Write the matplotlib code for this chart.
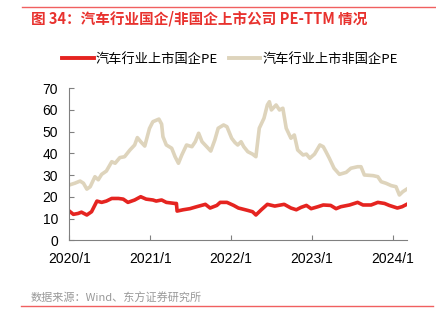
import matplotlib
matplotlib.use("Agg")
import matplotlib.pyplot as plt
from matplotlib.lines import Line2D

plt.rcParams['font.family'] = ['Liberation Sans', 'Noto Sans CJK SC', 'DejaVu Sans']

# months since 2020/1
soe_month = [0, 0.6, 1.3, 1.8, 2.6, 3.3, 4.1, 4.8, 5.5, 6.3, 7.3, 8.0, 8.7, 9.7, 10.6,
             11.4, 12.4, 12.9, 13.7, 14.4, 15.7, 15.9, 16.0, 16.9, 17.9, 18.9, 20.2,
             20.9, 21.9, 22.4, 23.4, 24.4, 25.1, 25.5, 26.5, 27.2, 27.7, 28.5, 29.4,
             30.5, 31.9, 32.9, 33.7, 34.4, 35.2, 35.9, 36.9, 37.7, 38.8, 39.6, 40.3,
             41.6, 42.8, 43.6, 44.8, 45.8, 46.8, 47.5, 48.7, 49.4, 50.1]
soe_pe = [13.5, 12.0, 12.4, 13.0, 11.7, 13.2, 18.1, 17.5, 18.1, 19.3, 19.3, 19.0, 17.5,
          18.6, 20.1, 19.0, 18.6, 18.1, 18.6, 17.5, 17.0, 17.0, 13.5, 14.1, 14.6, 15.5,
          16.6, 14.9, 16.1, 17.5, 17.5, 16.1, 14.9, 14.6, 13.8, 13.2, 11.7, 14.1, 16.6,
          15.8, 16.6, 14.9, 14.1, 15.2, 16.1, 14.6, 15.5, 16.3, 16.1, 14.6, 15.5, 16.3,
          17.5, 16.3, 16.3, 17.5, 17.0, 16.1, 14.9, 15.5, 16.6]

non_month = [0, 0.8, 1.6, 2.1, 2.6, 3.1, 3.8, 4.3, 4.8, 5.5, 6.3, 6.8, 7.5, 8.2, 9.0,
             9.7, 10.1, 10.6, 11.2, 11.9, 12.4, 13.3, 13.7, 13.9, 14.4, 15.2, 15.7,
             16.2, 16.7, 17.4, 18.2, 18.7, 19.2, 19.7, 20.4, 21.0, 21.6, 22.1, 22.9,
             23.4, 24.1, 24.6, 25.0, 25.5, 25.9, 26.5, 27.2, 27.7, 28.2, 28.9, 29.4,
             29.7, 30.0, 30.7, 31.2, 31.7, 32.2, 32.9, 33.4, 33.9, 34.7, 35.2, 35.7,
             36.4, 37.2, 37.7, 38.1, 38.6, 39.3, 40.1, 41.1, 41.8, 42.8, 43.3, 43.8,
             45.1, 45.8, 46.3, 47.0, 47.8, 48.5, 49.0, 49.5, 50.1]
non_pe = [25.5, 26.3, 27.3, 26.3, 23.6, 24.7, 29.3, 27.9, 30.4, 31.9, 36.2, 35.5, 38.1,
          38.5, 41.6, 43.9, 47.3, 45.4, 43.4, 51.5, 54.6, 55.8, 53.5, 47.7, 43.9, 42.4,
          38.5, 35.5, 39.3, 43.9, 43.1, 45.4, 49.3, 45.4, 43.1, 41.1, 46.2, 51.6, 53.1,
          52.3, 47.0, 45.0, 43.9, 45.4, 43.1, 40.8, 39.7, 38.5, 51.6, 56.2, 62.3, 63.8,
          60.0, 62.3, 60.0, 60.8, 51.6, 47.0, 48.5, 41.6, 39.3, 39.7, 37.8, 39.7, 43.9,
          43.1, 40.8, 37.8, 33.2, 30.4, 31.3, 33.2, 33.9, 33.9, 30.1, 29.8, 29.3, 27.0,
          26.3, 25.2, 24.7, 20.9, 22.4, 23.6]

tick_pos = [0, 12, 24, 36, 48]
tick_labels = ['2020/1', '2021/1', '2022/1', '2023/1', '2024/1']

red = '#e52420'
beige = '#ded4bc'
cjk = ['Noto Sans CJK SC', 'DejaVu Sans']

fig = plt.figure(figsize=(4.36, 3.28), dpi=100)
ax = fig.add_axes([0.159, 0.267, 0.774, 0.464])

ax.plot(non_month, non_pe, color=beige, lw=2.6, solid_joinstyle='round')
ax.plot(soe_month, soe_pe, color=red, lw=2.6, solid_joinstyle='round')

ax.set_xlim(0, 50.1)
ax.set_ylim(0, 70)
ax.set_yticks(range(0, 71, 10))
ax.set_xticks(tick_pos)
ax.set_xticklabels(tick_labels)
for s in ['top', 'right']:
    ax.spines[s].set_visible(False)
for s in ['left', 'bottom']:
    ax.spines[s].set_color('#808080')
    ax.spines[s].set_linewidth(0.8)
ax.tick_params(direction='in', length=3.5, width=0.8, color='#808080',
               labelsize=10, labelcolor='black', pad=8)

# legend, placed like the original
handles = [Line2D([], [], color=red, lw=2.8), Line2D([], [], color=beige, lw=2.8)]
leg = fig.legend(handles, ['汽车行业上市国企PE', '汽车行业上市非国企PE'],
                 loc='center', bbox_to_anchor=(230 / 436, 1 - 59 / 328), ncol=2,
                 frameon=False, handlelength=2.4, handletextpad=0.15,
                 columnspacing=0.8, prop={'family': cjk, 'size': 9.5})

# title and frame lines
fig.add_artist(Line2D([22 / 436, 1], [1 - 7 / 328] * 2, color='#f06060', lw=1.0))
fig.text(31 / 436, 1 - 19 / 328, '图 34：汽车行业国企/非国企上市公司 PE-TTM 情况',
         color='#e8322e', fontsize=10.5, fontweight='bold', family=cjk, va='center')
fig.text(31 / 436, 1 - 298 / 328, '数据来源：Wind、东方证券研究所',
         color='#999999', fontsize=8, family=cjk, va='center')
fig.add_artist(Line2D([21 / 436, 433 / 436], [1 - 306 / 328] * 2, color='#f06060', lw=1.0))

fig.savefig('out.png', dpi=100)
